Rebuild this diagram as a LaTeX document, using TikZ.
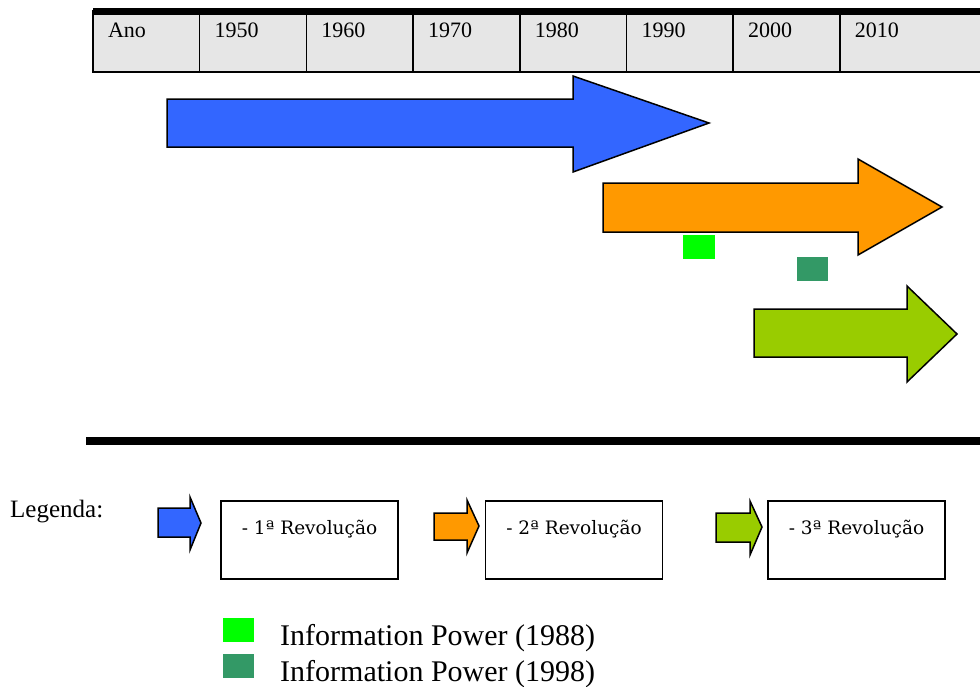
\documentclass[tikz,border=0pt]{standalone}
\usepackage{fontspec}
\setmainfont{Liberation Serif}
\newfontfamily\revfont{DejaVu Serif}
\usetikzlibrary{positioning}

\definecolor{revblue}{HTML}{3366FF}
\definecolor{revorange}{HTML}{FF9900}
\definecolor{revgreen}{HTML}{99CC00}
\definecolor{ipnew}{HTML}{00FF00}
\definecolor{ipold}{HTML}{339966}
\definecolor{cellgray}{HTML}{E6E6E6}

\tikzset{
  cell/.style={draw, line width=1.5pt, fill=cellgray, outer sep=0pt,
    inner xsep=15pt, inner ysep=0pt, text width=76.7pt,
    text height=26pt, text depth=35pt, align=left,
    font=\fontsize{22}{26}\selectfont},
  revshape/.style={draw=black, line width=1.5pt, line join=miter},
  revbox/.style={draw, line width=1.5pt, inner sep=0pt, minimum width=177pt,
    text height=33pt, text depth=45pt, font=\revfont\fontsize{18.5}{22}\selectfont},
  ipbox/.style={inner sep=0pt, outer sep=0pt, minimum width=32pt, minimum height=24pt},
  iptext/.style={inner sep=0pt, font=\fontsize{30}{34}\selectfont}
}

\begin{document}
\begin{tikzpicture}[x=1pt, y=-1pt, node distance=0pt]
            \useasboundingbox (0,0) rectangle (980,686);

            % timeline
            \node [cell, anchor=north west] (ano) at (93,11) {Ano};
            \node [cell, right=of ano] (y1950) {1950};
            \node [cell, right=of y1950] (y1960) {1960};
            \node [cell, right=of y1960] (y1970) {1970};
            \node [cell, right=of y1970] (y1980) {1980};
            \node [cell, right=of y1980] (y1990) {1990};
            \node [cell, right=of y1990] (y2000) {2000};
            \node [cell, right=of y2000, text width=120pt] (y2010) {2010};
            \draw [line width=7pt] (ano.north west) -- (y2010.north east);

            % revolutions
            \draw [revshape, fill=revblue] (167,99) -- (573,99) -- (573,76) -- (709,123)
                -- (573,172) -- (573,147) -- (167,147) -- cycle;
            \draw [revshape, fill=revorange] (603,183) -- (858,183) -- (858,159) -- (942,207)
                -- (858,255) -- (858,232) -- (603,232) -- cycle;
            \draw [revshape, fill=revgreen] (754,309) -- (907,309) -- (907,286) -- (957,334)
                -- (907,382) -- (907,357) -- (754,357) -- cycle;

            \node [ipbox, fill=ipnew] (ip88) at (699,247) {};
            \node [ipbox, fill=ipold, minimum width=31pt] (ip98) at (812.5,269) {};

            \draw [line width=8pt] (86,441) -- (990,441);

            % legend
            \node [anchor=base west, inner sep=0pt, font=\fontsize{25}{28}\selectfont] (legenda) at (10,517) {Legenda:};

            \node [revbox] (rev1) at (309.5,540) {- 1ª Revolução};
            \node [revbox, right=86pt of rev1] (rev2) {- 2ª Revolução};
            \node [revbox, right=104pt of rev2] (rev3) {- 3ª Revolução};

            \draw [revshape, fill=revblue] (158,508) -- (190,508) -- (190,497) -- (201,523)
                -- (190,550) -- (190,537) -- (158,537) -- cycle;
            \draw [revshape, fill=revorange] (434,513) -- (467,513) -- (467,500) -- (479,526)
                -- (467,553) -- (467,540) -- (434,540) -- cycle;
            \draw [revshape, fill=revgreen] (716,513) -- (750,513) -- (750,501) -- (762,527)
                -- (750,555) -- (750,542) -- (716,542) -- cycle;

            \node [ipbox, fill=ipnew, minimum width=31pt] (sq88) at (238.5,630) {};
            \node [ipbox, fill=ipold, minimum width=31pt] (sq98) at (238.5,666) {};
            \node [iptext, right=26pt of sq88, yshift=-8pt] (txt88) {Information Power (1988)};
            \node [iptext, right=26pt of sq98, yshift=-8pt] (txt98) {Information Power (1998)};
          \end{tikzpicture}
\end{document}
